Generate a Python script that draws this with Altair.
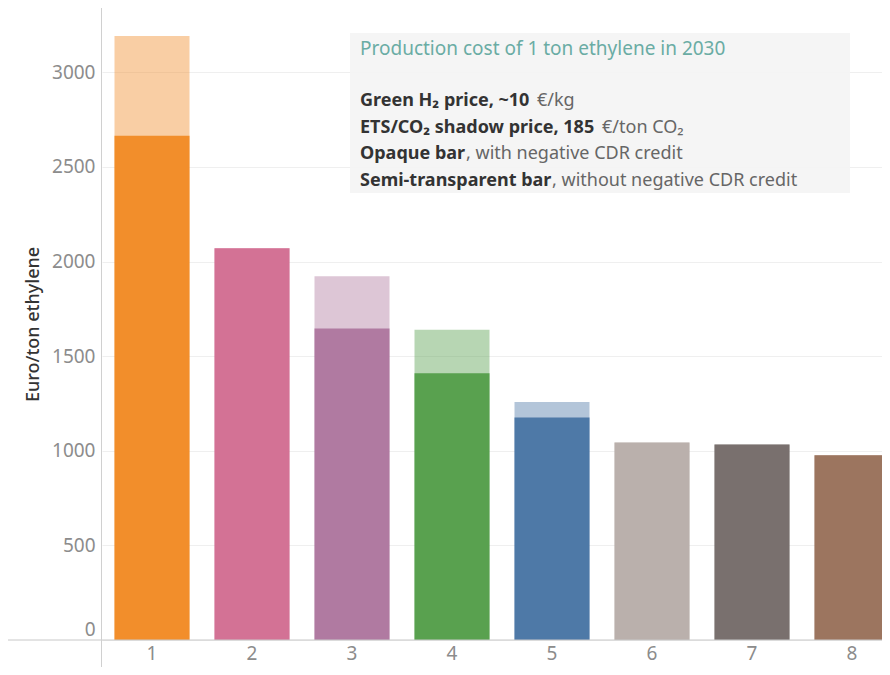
import altair as alt
import pandas as pd

categories = ["1", "2", "3", "4", "5", "6", "7", "8"]
without_credit = [3192, 2070, 1923, 1640, 1258, 1044, 1033, 977]
with_credit = [2665, 2070, 1646, 1410, 1176, 1044, 1033, 977]
colors = ["#f28e2b", "#d37295", "#b07aa1", "#59a14f", "#4e79a7", "#bab0ac", "#79706e", "#9c755f"]

FONT = "Noto Sans"
W, H = 780, 632

df = pd.DataFrame({"cat": categories, "total": without_credit, "net": with_credit})

xenc = alt.X("cat:N", sort=categories, title=None,
             scale=alt.Scale(range=[0, 800], paddingInner=0.25, paddingOuter=0.125),
             axis=alt.Axis(labelAngle=0, labelFontSize=19, labelColor="#8c8c8c", labelFont=FONT,
                           ticks=False, domain=False, labelPadding=4))
yscale = alt.Scale(domain=[0, 3340], nice=False)
cenc = alt.Color("cat:N", scale=alt.Scale(domain=categories, range=colors), legend=None)

base = alt.Chart(df)
light = base.mark_bar(opacity=0.43, clip=True).encode(
    x=xenc,
    y=alt.Y("total:Q", scale=yscale, title="Euro/ton ethylene",
            axis=alt.Axis(values=[0, 500, 1000, 1500, 2000, 2500, 3000], format="d",
                          labelFontSize=19, labelColor="#8c8c8c", labelFont=FONT,
                          ticks=False, domain=False, labelPadding=7, gridColor="#efefef",
                          labelOffset={"condition": {"test": "datum.value === 0", "value": -11}, "value": 0},
                          titleFont=FONT, titleFontSize=18, titleFontWeight=500, titleColor="#333333",
                          titlePadding=9)),
    color=cenc,
)
solid = base.mark_bar(opacity=1, clip=True).encode(
    x=alt.X("cat:N", sort=categories),
    y=alt.Y("net:Q", scale=yscale),
    color=cenc,
)

hline = alt.Chart(pd.DataFrame({"a": [0]})).mark_rule(color="#c8c8c8", strokeWidth=1).encode(
    x=alt.value(-94), x2=alt.value(W), y=alt.value(H)
)
vline = alt.Chart(pd.DataFrame({"a": [0]})).mark_rule(color="#d0d0d0", strokeWidth=1).encode(
    x=alt.value(-0.5), y=alt.value(0), y2=alt.value(H + 40)
)

box = alt.Chart(pd.DataFrame({"a": [0]})).mark_rect(color="#f4f4f4", opacity=0.92).encode(
    x=alt.value(248), x2=alt.value(748), y=alt.value(25), y2=alt.value(185)
)

title_txt = alt.Chart(pd.DataFrame({"t": ["Production cost of 1 ton ethylene in 2030"]})).mark_text(
    align="left", baseline="middle", font=FONT, fontSize=19, color="#6aaca4"
).encode(text="t:N", x=alt.value(258), y=alt.value(41))

bold_parts = ["Green H\u2082 price, ~10", "ETS/CO\u2082 shadow price, 185", "Opaque bar", "Semi-transparent bar"]
normal_parts = ["\u20ac/kg", "\u20ac/ton CO\u2082", ", with negative CDR credit", ", without negative CDR credit"]
line_y = [93, 120, 146, 173]
normal_x = [435, 500, 364, 450]

layers = [light, solid, hline, vline, box, title_txt]
for b, n, yy, nx in zip(bold_parts, normal_parts, line_y, normal_x):
    layers.append(alt.Chart(pd.DataFrame({"t": [b]})).mark_text(
        align="left", baseline="middle", font=FONT, fontSize=18, fontWeight="bold", color="#333333"
    ).encode(text="t:N", x=alt.value(258), y=alt.value(yy)))
    layers.append(alt.Chart(pd.DataFrame({"t": [n]})).mark_text(
        align="left", baseline="middle", font=FONT, fontSize=18, color="#666666"
    ).encode(text="t:N", x=alt.value(nx), y=alt.value(yy)))

chart = alt.layer(*layers).properties(
    width=W, height=H,
    autosize=alt.AutoSizeParams(type="none"),
    padding={"left": 94, "top": 0, "right": 0, "bottom": 27},
).configure_view(stroke=None)

chart.save("out.html", embed_options={"renderer": "svg", "actions": False})
